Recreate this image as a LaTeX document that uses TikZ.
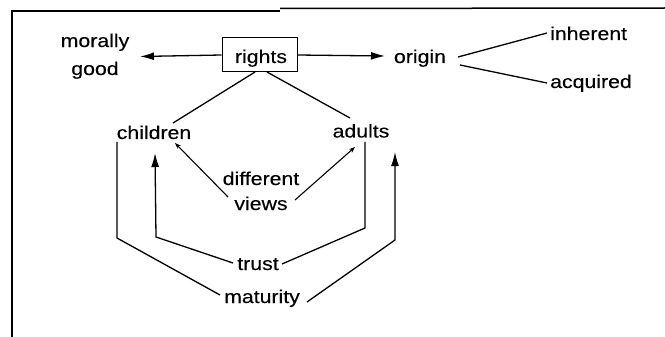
\documentclass[tikz,border=0pt]{standalone}
\usepackage{fontspec}
\setmainfont{Liberation Sans}[FakeStretch=1.15,FakeBold=0.2]
\usetikzlibrary{arrows.meta}
\begin{document}
\begin{tikzpicture}[x=1pt,y=-1pt,
  lbl/.style={inner sep=0pt,anchor=base,font=\fontsize{18.5}{25}\selectfont},
  link/.style={line width=1.3pt},
  bigtip/.style={link,-{Latex[length=14pt,width=8pt]}},
  smalltip/.style={line width=1.1pt,-{Stealth[length=6pt,width=4.5pt]}},
  frame/.style={line width=1.5pt}]
\useasboundingbox (0,0) rectangle (665,337);
% page frame
\draw[frame] (12,337) -- (12,11) -- (280,11);
\draw[frame] (280,8.5) -- (665,8);
% central box
\node[draw,line width=1pt,minimum width=75pt,minimum height=34pt,inner sep=0pt]
  (rights) at (259.5,55) {};
\node[lbl] (rightstext) at (261,63) {rights};
% labels (two-line labels are placed by the base of their last line)
\node[lbl,align=center] (moral) at (95,75) {morally\\[3pt]good};
\node[lbl] (origin) at (420,63) {origin};
\node[lbl,anchor=base west] (inherent) at (550,40) {inherent};
\node[lbl,anchor=base west] (acquired) at (550,88) {acquired};
\node[lbl] (children) at (154,139) {children};
\node[lbl] (adults) at (361,137.5) {adults};
\node[lbl,align=center] (views) at (261,210) {different\\views};
\node[lbl] (trust) at (258,270) {trust};
\node[lbl] (maturity) at (262,303) {maturity};
% connection points
\coordinate (mtip) at (140,56.5);
\coordinate (otip) at (385,56);
\coordinate (rl) at (255,72);
\coordinate (rr) at (267,72);
\coordinate (chtop) at (173,123);
\coordinate (adtop) at (350,118);
\coordinate (oa) at (458,57);
\coordinate (ob) at (460,65);
\coordinate (ia) at (547,33);
\coordinate (ib) at (547,83);
\coordinate (vl) at (228,197);
\coordinate (vr) at (295,200);
\coordinate (chv) at (175,143);
\coordinate (adv) at (355,147);
\coordinate (cl1) at (117,142);
\coordinate (cl2) at (117,238);
\coordinate (mw) at (220,295);
\coordinate (tw) at (233,263);
\coordinate (ct2) at (156,237);
\coordinate (cttip) at (155,153);
\coordinate (te) at (282,264);
\coordinate (ar2) at (365,228);
\coordinate (ar1) at (365,142);
\coordinate (me) at (307,302);
\coordinate (am2) at (395,240);
\coordinate (amtip) at (395,152);
% arrows from the box
\draw[bigtip] (rights.west) -- (mtip);
\draw[bigtip] (rights.east) -- (otip);
\draw[link] (rl) -- (chtop);
\draw[link] (rr) -- (adtop);
% origin branches
\draw[link] (oa) -- (ia);
\draw[link] (ob) -- (ib);
% different views
\draw[smalltip] (vl) -- (chv);
\draw[smalltip] (vr) -- (adv);
% trust and maturity loops
\draw[link] (cl1) -- (cl2) -- (mw);
\draw[bigtip] (tw) -- (ct2) -- (cttip);
\draw[link] (te) -- (ar2) -- (ar1);
\draw[bigtip] (me) -- (am2) -- (amtip);
\end{tikzpicture}
\end{document}
